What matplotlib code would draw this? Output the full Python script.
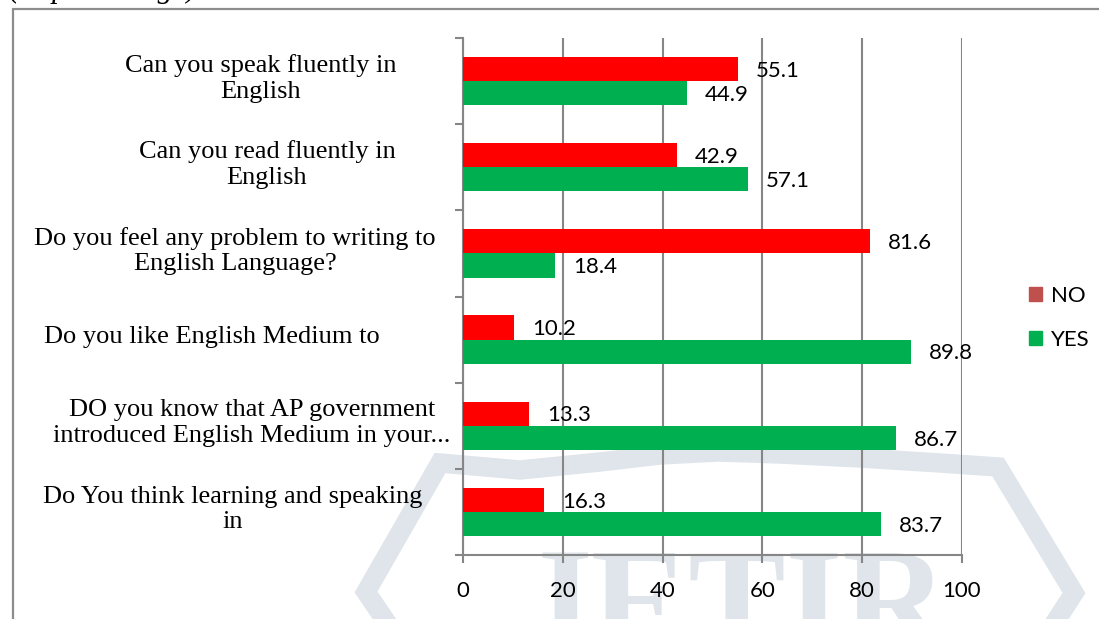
import matplotlib
matplotlib.use("Agg")
import matplotlib.pyplot as plt
import matplotlib.patches as mpatches
import matplotlib.transforms as mtransforms
from matplotlib.lines import Line2D

# --- data -------------------------------------------------------------
questions = [
    "Can you speak fluently in\nEnglish",
    "Can you read fluently in\nEnglish",
    "Do you feel any problem to writing to\nEnglish Language?",
    "Do you like English Medium to",
    "DO you know that AP government\nintroduced English Medium in your...",
    "Do You think learning and speaking\nin",
]
no_pct = [55.1, 42.9, 81.6, 10.2, 13.3, 16.3]
yes_pct = [44.9, 57.1, 18.4, 89.8, 86.7, 83.7]
x_ticks = [0, 20, 40, 60, 80, 100]

# layout: horizontal centre (px) of each category label block
label_cx = [261, 267, 235, 212, 252, 233]

RED = '#ff0000'
GREEN = '#00b050'
NO_LEG = '#c0504d'
GRID = '#868686'
WM = '#dfe5ea'

W, H = 1099, 619
fig = plt.figure(figsize=(W / 100, H / 100), dpi=100)
fig.patch.set_facecolor('white')


def px(x, y):
    # pixel (from top-left) -> figure fraction
    return x / W, 1 - y / H


# watermark (logo band + letters) behind everything
band = [(392, 630), (366, 592), (440, 463), (520, 470), (600, 462), (660, 455),
        (718, 452), (780, 454), (860, 458), (940, 463), (998, 467),
        (1074, 593), (1050, 630)]
bx, by = zip(*[px(*p) for p in band])
fig.add_artist(Line2D(bx, by, transform=fig.transFigure, color=WM, lw=14,
                      solid_joinstyle='miter', zorder=-2))
fig.text(*px(733, 649), "JETIR", fontsize=105, family='Liberation Serif',
         fontweight='bold', color=WM, ha='center', va='baseline', zorder=-1)

# outer chart frame
fig.add_artist(mpatches.Rectangle(px(13, 640), (W + 20 - 13) / W, (640 - 9) / H,
                                  transform=fig.transFigure, fill=False,
                                  edgecolor='#8c8c8c', lw=1.6, zorder=1))
# cropped caption line at the very top (only descenders visible)
fig.text(*px(9, -3), "(In percentage)", fontsize=22, family='Liberation Serif',
         style='italic', color='black', ha='left', va='baseline')

ax = fig.add_axes([463 / W, 1 - 555 / H, (962 - 463) / W, (555 - 38) / H])
ax.set_facecolor('none')

n = len(questions)
centers = [i + 0.5 for i in range(n)]
h = 0.28
ax.barh([c - h / 2 for c in centers], no_pct, height=h, color=RED, zorder=3)
ax.barh([c + h / 2 for c in centers], yes_pct, height=h, color=GREEN, zorder=3)

for c, v in zip(centers, no_pct):
    ax.text(v + 3.6, c - h / 2 + 0.02, f"{v:.1f}", va='center', ha='left',
            fontsize=16, family='Lato', zorder=4)
for c, v in zip(centers, yes_pct):
    ax.text(v + 3.6, c + h / 2 + 0.02, f"{v:.1f}", va='center', ha='left',
            fontsize=16, family='Lato', zorder=4)

ax.set_xlim(0, 100)
ax.set_ylim(n, 0)
ax.set_xticks(x_ticks)
ax.set_xticklabels([str(t) for t in x_ticks], fontsize=16, family='Lato')
ax.set_yticks(range(n + 1))
ax.set_yticklabels([])
ax.tick_params(axis='both', direction='out', length=6, width=1.5, color=GRID)
ax.tick_params(axis='x', pad=13)
ax.xaxis.grid(True, color=GRID, lw=1.5, zorder=0)
ax.set_axisbelow(True)
for s in ['top', 'right']:
    ax.spines[s].set_visible(False)
for s in ['left', 'bottom']:
    ax.spines[s].set_color(GRID)
    ax.spines[s].set_linewidth(1.5)

# category labels
tr = mtransforms.blended_transform_factory(ax.transAxes, ax.transData)
for c, q, cx in zip(centers, questions, label_cx):
    ax.text((cx - 463) / (962 - 463), c - 0.03, q, transform=tr,
            ha='center', va='center', multialignment='center', fontsize=19,
            family='Liberation Serif', linespacing=1.2)

handles = [mpatches.Patch(color=NO_LEG, label='NO'),
           mpatches.Patch(color=GREEN, label='YES')]
fig.legend(handles=handles, loc='center left', bbox_to_anchor=px(1018, 318),
           frameon=False, prop={'family': 'Lato', 'size': 16},
           handlelength=0.6, handleheight=0.6, handletextpad=0.4,
           labelspacing=1.1, borderpad=0)

fig.savefig('out.png', dpi=100)
